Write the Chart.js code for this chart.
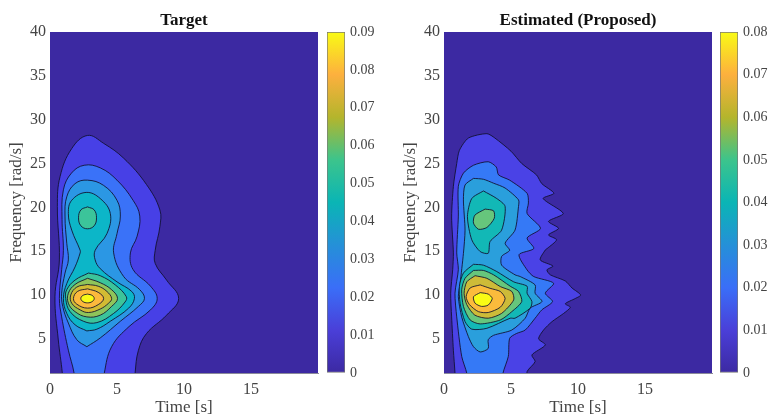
<!DOCTYPE html>
<html lang="en">
<head>
    <meta charset="UTF-8">
    <title>Target vs Estimated</title>
    <script src="https://cdn.jsdelivr.net/npm/chart.js"></script>
    <style>
        html, body { margin: 0; padding: 0; background: #fff; }
        body { position: relative; width: 769px; height: 416px; overflow: hidden; }
        canvas { position: absolute; top: 0; }
    </style>
</head>
<body>
    <canvas id="targetPlot" width="322" height="418" style="left:0"></canvas>
    <canvas id="targetBar" width="64" height="416" style="left:327px"></canvas>
    <canvas id="estimatedPlot" width="322" height="418" style="left:394px"></canvas>
    <canvas id="estimatedBar" width="49" height="416" style="left:720px"></canvas>

    <script>
        // axis ticks
        const timeTicks = [0, 5, 10, 15];
        const freqTicks = [5, 10, 15, 20, 25, 30, 35, 40];
        const targetBarTicks = [0, 0.01, 0.02, 0.03, 0.04, 0.05, 0.06, 0.07, 0.08, 0.09];
        const estimatedBarTicks = [0, 0.01, 0.02, 0.03, 0.04, 0.05, 0.06, 0.07, 0.08];

        // colour of each contour band, lowest first
        const targetBands = ['#3c29a2', '#4740e6', '#3a72f8', '#2b97e4', '#0cb6c8', '#3cc49a', '#8fc45a', '#d3bb33', '#fcb93c', '#f9fb15'];
        const estimatedBands = ['#3c29a2', '#4a42e6', '#3579f6', '#2a9fdc', '#12b8b6', '#66c67c', '#cdbb38', '#fbbb3c', '#f9fb15'];
        const barStops = ['#3c29a2', '#4a3fd8', '#3a6ef8', '#2590d8', '#0ab5b5', '#3cc48c', '#b4b52c', '#fdb03e', '#f9fb15'];

        // contour outlines as [time, frequency]
        const background = [[0, 0], [21, 0], [21, 41], [0, 41]];

        const t1 = [[0.92, 0], [0.92, 1.07], [0.62, 4.87], [0.37, 9.8], [0.7, 14], [0.55, 20.1], [0.75, 23.5], [1.62, 26.7], [2.8, 28.2], [4, 27.3], [5.5, 25.6], [7.2, 22.6], [8.2, 19.7], [8.2, 17.8], [7.85, 15.1], [7.85, 13.6], [8.7, 11.7], [9.6, 9.6], [8.7, 7.7], [7.2, 5.6], [6.6, 3.7], [6.35, 1.07], [6.35, 0]];
        const t2 = [[1.8, 0], [1.8, 1.07], [1.37, 3.7], [0.87, 7.5], [0.7, 9.6], [0.87, 12.9], [1, 15.1], [0.9, 18.6], [1, 22], [1.6, 23.9], [2.55, 24.8], [3.75, 24.5], [5, 23.1], [6.2, 20.8], [6.7, 19], [6.5, 16.7], [6, 14.8], [6.2, 12.9], [7.5, 11], [8, 9.6], [7.5, 8.3], [5.9, 6.4], [4.6, 4.1], [4.05, 1.07], [4.05, 0]];
        const t3 = [[2.75, 4.1], [2, 4.9], [1.37, 6.8], [0.95, 8.7], [0.87, 10.2], [1.12, 12.5], [1.37, 14], [1.25, 15.9], [1.12, 19], [1.25, 21.2], [1.87, 22.7], [2.8, 23.1], [4, 22.5], [5, 20.8], [5.25, 19], [5, 17], [4.75, 14.8], [5.5, 12.1], [6.7, 10.6], [7.05, 9.6], [6.6, 8.7], [5.25, 7], [3.75, 5.1]];
        const t4 = [[2.75, 5.9], [1.87, 6.6], [1.25, 7.9], [1, 9.6], [1.25, 11.3], [1.87, 13.2], [2.25, 14.8], [2.25, 15.1], [1.62, 17.4], [1.37, 19.3], [1.62, 20.8], [2.7, 21.7], [3.75, 21], [4.5, 19.3], [4.25, 17], [3.37, 15.1], [3.37, 14], [3.75, 13], [5, 11.5], [6.1, 10.4], [6.3, 9.6], [5.87, 8.5], [4.5, 7], [3.5, 6.1]];
        const t5Upper = [[2.8, 20.05], [3.3, 19.7], [3.47, 18.8], [3.3, 17.9], [2.8, 17.55], [2.3, 17.9], [2.13, 18.8], [2.3, 19.7]];
        const t5Lower = [[2.87, 12.5], [1.87, 11.7], [1.25, 10.6], [1.17, 9.6], [1.5, 8.1], [2.5, 7], [3.5, 6.85], [4.75, 7.9], [5.6, 9.2], [5.7, 9.8], [4.87, 11.15], [3.75, 12.2]];
        const t6 = [[2.8, 11.9], [1.87, 11.2], [1.37, 10.2], [1.37, 9.06], [1.87, 8.1], [2.75, 7.5], [3.75, 7.7], [4.6, 8.7], [5.04, 9.6], [4.6, 10.6], [3.75, 11.4]];
        const t7 = [[2.8, 11.2], [2, 10.9], [1.55, 10], [1.62, 9.06], [2.25, 8.3], [2.87, 8], [3.75, 8.4], [4.37, 9.06], [4.6, 9.6], [4.25, 10.4], [3.6, 11]];
        const t8 = [[2.8, 10.7], [2.05, 10.4], [1.75, 9.6], [2, 8.95], [2.8, 8.5], [3.6, 8.9], [4, 9.6], [3.6, 10.3]];
        const t9 = [[2.8, 10.1], [3.15, 9.95], [3.3, 9.6], [3.15, 9.25], [2.8, 9.1], [2.45, 9.25], [2.3, 9.6], [2.45, 9.95]];

        const e1 = [[0.82, 0], [0.82, 1.07], [0.7, 3.7], [0.57, 7.5], [0.5, 10.2], [0.65, 12.9], [0.7, 14.8], [0.57, 18.9], [0.7, 22.4], [0.95, 25], [1.15, 26.5], [1.82, 27.9], [3.2, 28.4], [3.8, 27.9], [5, 26.4], [5.8, 25], [6.9, 23.7], [7.3, 22.7], [8.2, 21.6], [7.4, 21], [8.9, 19.3], [7.8, 18.4], [8.55, 17.6], [7.8, 16.85], [8.4, 16.3], [7.7, 15.3], [7.56, 15.14], [7.18, 14], [8.13, 13.3], [7.68, 12.86], [7.93, 12.3], [9.05, 11.6], [9.55, 10.8], [10.2, 10], [9.8, 9.6], [9.05, 9], [9.43, 8.6], [8.93, 7.9], [8.06, 6.96], [7.43, 6], [7.06, 5], [7.56, 4.3], [6.56, 3.16], [6.8, 2.4], [6.2, 1.26], [6.2, 0]];
        const e2 = [[1.7, 0], [1.7, 1.07], [1.32, 3], [0.95, 7.5], [0.82, 10.2], [1.07, 12.9], [0.95, 14.8], [1.07, 19], [1.07, 22.4], [1.45, 23.9], [2.2, 24.8], [3.3, 25.2], [3.9, 24.6], [4.07, 23.7], [4.9, 23.1], [6.2, 21.6], [6.3, 20.5], [6.2, 19.3], [7.2, 17.6], [6.2, 16.5], [6.7, 15.3], [5.6, 14.6], [6.2, 12.86], [6.7, 12.1], [8.18, 11.34], [7.56, 10.2], [8.1, 9.25], [7.3, 8.3], [6.8, 7.35], [6.06, 6], [5.4, 5.6], [4.9, 5.06], [4.8, 3], [4.4, 1.07], [4.4, 0]];
        const e3 = [[2.2, 23.3], [1.57, 22.55], [1.45, 20.85], [1.57, 17.4], [1.45, 14.75], [1.2, 11.3], [1.07, 9.8], [1.32, 7.5], [1.82, 5.25], [2.2, 4.1], [2.7, 3.5], [3.3, 3.9], [3.3, 4.9], [3.7, 5.4], [5.06, 6], [6.06, 7.35], [6.43, 8.5], [7.31, 9.25], [6.8, 10.2], [6.8, 11.15], [5.69, 12.1], [5.3, 12.3], [4.3, 13.4], [4.3, 14.4], [4.9, 15.1], [4.56, 15.9], [5.3, 17.4], [5.56, 20.1], [5.56, 20.85], [4.56, 22.2], [3.7, 22.75], [2.94, 23.2]];
        const e4Upper = [[2.94, 21.87], [2.07, 21], [1.75, 18.94], [2.07, 16.3], [2.7, 14.95], [3.3, 14.76], [3.44, 16.1], [4.3, 17.4], [4.56, 20.1], [3.94, 21]];
        const e4Lower = [[2.2, 13.5], [1.45, 12.5], [1.15, 11], [1.2, 9.06], [1.57, 6.97], [2.07, 6.1], [3.2, 6.2], [4.94, 7.35], [5.3, 7.35], [6.43, 8.5], [6.56, 9.25], [6.2, 10.2], [6.2, 11], [5.2, 11.5], [3.94, 12.67], [2.94, 13.4]];
        const e5Upper = [[3.07, 19.8], [3.7, 19.6], [3.75, 18.75], [3.2, 17.7], [2.57, 17.5], [2.2, 18.2], [2.3, 19.1]];
        const e5Lower = [[2.2, 12.8], [1.57, 11.9], [1.32, 10.6], [1.45, 8.7], [1.95, 7.15], [2.7, 6.7], [4.2, 7.15], [5.06, 8.1], [5.8, 9.25], [5.56, 10.4], [4.94, 11], [3.7, 12.3], [2.94, 12.8]];
        const e6 = [[2.32, 12.2], [1.7, 11.5], [1.5, 10.2], [1.7, 8.9], [2.3, 7.7], [3.3, 7.35], [4.3, 7.9], [5.2, 9.44], [5.06, 10.4], [4.2, 10.96], [3.2, 11.9]];
        const e7 = [[2.7, 11.15], [1.95, 10.8], [1.65, 9.8], [1.9, 8.9], [2.57, 8.1], [3.3, 8], [4.2, 8.6], [4.56, 9.6], [4.2, 10.4], [3.44, 10.76]];
        const e8 = [[2.7, 10.27], [2.2, 9.8], [2.32, 9.06], [2.8, 8.7], [3.3, 8.85], [3.6, 9.6], [3.3, 10.1]];

        const textColor = '#444';
        const serif = 'Liberation Serif';

        // one filled, outlined region
        function region(points, color, tension, outlined) {
            const data = points.concat([points[0]]).map(p => ({ x: p[0], y: p[1] }));
            return {
                data: data,
                showLine: true,
                pointRadius: 0,
                fill: 'shape',
                backgroundColor: color,
                borderColor: outlined ? 'rgba(15, 15, 45, 0.85)' : color,
                borderWidth: outlined ? 1 : 0,
                tension: tension
            };
        }

        function drawPlot(id, title, layers, tension) {
            const datasets = layers.map(l => region(l.points, l.color, tension, l.points !== background));
            // first dataset is painted last, so the highest band goes first
            datasets.reverse();
            new Chart(document.getElementById(id), {
                type: 'scatter',
                data: { datasets: datasets },
                options: {
                    responsive: false,
                    animation: false,
                    layout: { padding: { right: 4 } },
                    plugins: {
                        legend: { display: false },
                        tooltip: { enabled: false },
                        title: {
                            display: true,
                            text: title,
                            fullSize: false,
                            color: '#111',
                            font: { family: serif, size: 17, weight: 'bold' },
                            padding: { top: 10, bottom: 1.6 }
                        }
                    },
                    scales: {
                        x: {
                            min: 0,
                            max: 20,
                            afterFit: axis => { axis.height = 45; },
                            afterBuildTicks: axis => { axis.ticks = timeTicks.map(v => ({ value: v })); },
                            grid: { drawOnChartArea: false, tickLength: -3, tickColor: '#333' },
                            border: { color: '#8a8a9a' },
                            ticks: { color: textColor, font: { family: serif, size: 16 }, padding: 10, maxRotation: 0 },
                            title: { display: true, text: 'Time [s]', color: textColor, font: { family: serif, size: 17 }, padding: { top: 0, bottom: 0 } }
                        },
                        y: {
                            min: 1.1,
                            max: 40,
                            afterFit: axis => { axis.width = 50; },
                            afterBuildTicks: axis => { axis.ticks = freqTicks.map(v => ({ value: v })); },
                            grid: { drawOnChartArea: false, tickLength: -3, tickColor: '#333' },
                            border: { color: '#8a8a9a' },
                            ticks: { color: textColor, font: { family: serif, size: 16 }, padding: 7 },
                            title: { display: true, text: 'Frequency [rad/s]', color: textColor, font: { family: serif, size: 17 }, padding: { top: 6, bottom: 0 } }
                        }
                    }
                }
            });
        }

        function drawBar(id, maxValue, tickValues, rightSpace) {
            new Chart(document.getElementById(id), {
                type: 'bar',
                data: {
                    labels: [''],
                    datasets: [{
                        data: [[0, maxValue]],
                        borderColor: '#777',
                        borderWidth: 1,
                        borderSkipped: false,
                        barPercentage: 1,
                        categoryPercentage: 1,
                        backgroundColor: ctx => {
                            const area = ctx.chart.chartArea;
                            if (!area) return barStops[0];
                            const gradient = ctx.chart.ctx.createLinearGradient(0, area.bottom, 0, area.top);
                            barStops.forEach((c, i) => gradient.addColorStop(i / (barStops.length - 1), c));
                            return gradient;
                        }
                    }]
                },
                options: {
                    responsive: false,
                    animation: false,
                    layout: { padding: { top: 32, bottom: 43 } },
                    plugins: { legend: { display: false }, tooltip: { enabled: false } },
                    scales: {
                        x: { display: false },
                        y: {
                            position: 'right',
                            min: 0,
                            max: maxValue,
                            afterFit: axis => { axis.width = rightSpace; },
                            afterBuildTicks: axis => { axis.ticks = tickValues.map(v => ({ value: v })); },
                            grid: {
                                drawOnChartArea: false,
                                tickLength: -3,
                                // no mark on the two ends of the bar
                                tickColor: ctx => (ctx.tick && (ctx.tick.value === 0 || ctx.tick.value === maxValue) ? 'rgba(0,0,0,0)' : '#333')
                            },
                            border: { display: false },
                            ticks: {
                                color: textColor,
                                font: { family: serif, size: 14 },
                                padding: 8,
                                callback: v => (v === 0 ? '0' : v.toFixed(2))
                            }
                        }
                    }
                }
            });
        }

        const targetShapes = [background, t1, t2, t3, t4, t5Upper, t5Lower, t6, t7, t8, t9];
        const targetShapeBand = [0, 1, 2, 3, 4, 5, 5, 6, 7, 8, 9];
        const estimatedShapes = [background, e1, e2, e3, e4Upper, e4Lower, e5Upper, e5Lower, e6, e7, e8];
        const estimatedShapeBand = [0, 1, 2, 3, 4, 4, 5, 5, 6, 7, 8];

        drawPlot('targetPlot', 'Target',
            targetShapes.map((p, i) => ({ points: p, color: targetBands[targetShapeBand[i]] })), 0.4);
        drawPlot('estimatedPlot', 'Estimated (Proposed)',
            estimatedShapes.map((p, i) => ({ points: p, color: estimatedBands[estimatedShapeBand[i]] })), 0.25);
        drawBar('targetBar', 0.09, targetBarTicks, 46);
        drawBar('estimatedBar', 0.08, estimatedBarTicks, 31);
    </script>
</body>
</html>
